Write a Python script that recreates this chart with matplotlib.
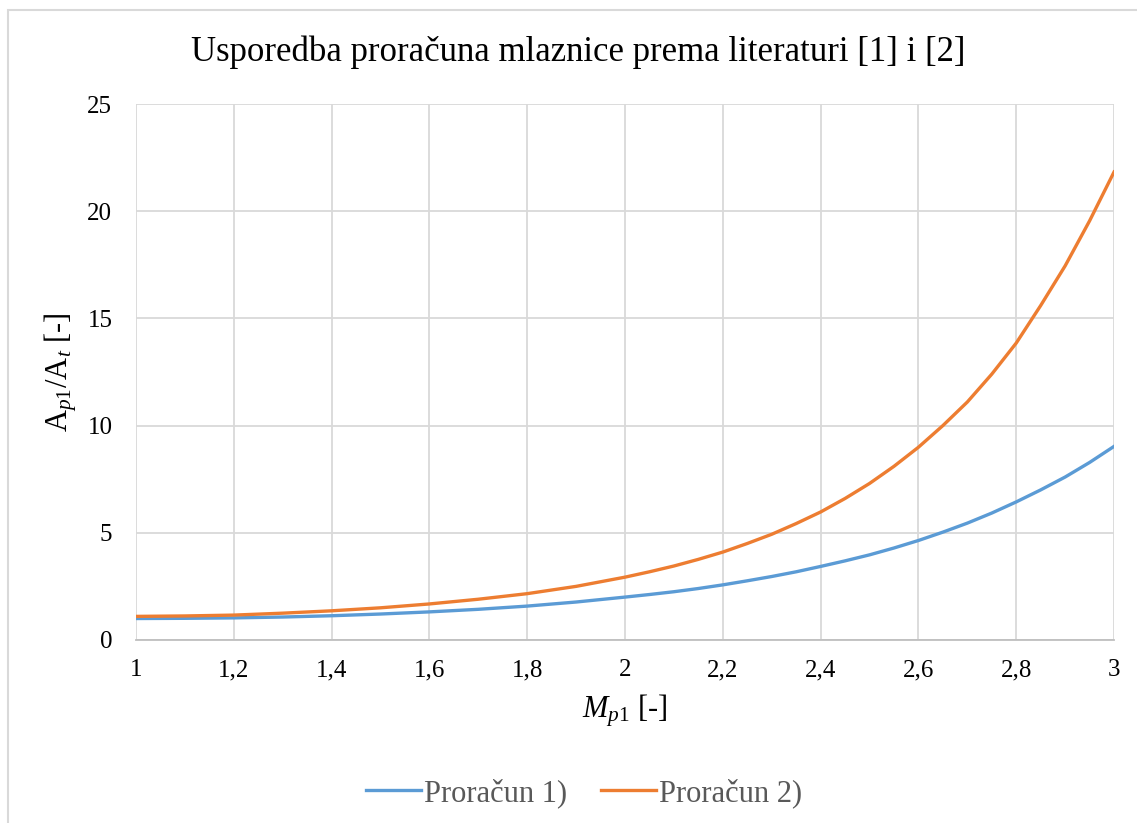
# Usporedba proracuna mlaznice - A_p1/A_t vs M_p1
import matplotlib.pyplot as plt
from matplotlib.patches import Rectangle

plt.rcParams['font.family'] = 'Liberation Serif'
plt.rcParams['mathtext.fontset'] = 'custom'
plt.rcParams['mathtext.rm'] = 'Liberation Serif'
plt.rcParams['mathtext.it'] = 'Liberation Serif:italic'

# Data
mach = [1.0, 1.1, 1.2, 1.3, 1.4, 1.5, 1.6, 1.7, 1.8, 1.9,
        2.0, 2.05, 2.1, 2.15, 2.2, 2.25, 2.3, 2.35, 2.4, 2.45,
        2.5, 2.55, 2.6, 2.65, 2.7, 2.75, 2.8, 2.85, 2.9, 2.95, 3.0]
racun1 = [1.0, 1.01, 1.03, 1.07, 1.13, 1.21, 1.31, 1.43, 1.58, 1.77,
          2.0, 2.12, 2.25, 2.4, 2.57, 2.76, 2.96, 3.18, 3.43, 3.69,
          3.97, 4.29, 4.64, 5.03, 5.45, 5.92, 6.44, 7.0, 7.6, 8.28, 9.03]
racun2 = [1.1, 1.12, 1.16, 1.25, 1.36, 1.5, 1.68, 1.9, 2.16, 2.5,
          2.93, 3.18, 3.45, 3.76, 4.1, 4.5, 4.93, 5.43, 5.97, 6.6,
          7.3, 8.1, 8.99, 10.0, 11.1, 12.4, 13.85, 15.6, 17.45, 19.55, 21.83]
x_ticks = [1.0, 1.2, 1.4, 1.6, 1.8, 2.0, 2.2, 2.4, 2.6, 2.8, 3.0]
x_labels = ['1', '1,2', '1,4', '1,6', '1,8', '2', '2,2', '2,4', '2,6', '2,8', '3']

fig = plt.figure(figsize=(11.37, 8.23), dpi=100)
ax = fig.add_axes([0.1196, 0.2224, 0.8602, 0.6512])

# Outer chart border like Excel
fig.patches.append(Rectangle((8 / 1137, -0.1), 1.2, 1.1 - 10 / 823,
                             transform=fig.transFigure, fill=False,
                             edgecolor='#d9d9d9', linewidth=1.5))

ax.plot(mach, racun1, color='#5b9bd5', linewidth=2.4, label='Proračun 1)')
ax.plot(mach, racun2, color='#ed7d31', linewidth=2.4, label='Proračun 2)')

ax.set_xlim(1, 3)
ax.set_ylim(0, 25)
ax.set_xticks(x_ticks)
ax.set_xticklabels(x_labels)
ax.set_yticks([0, 5, 10, 15, 20, 25])
ax.tick_params(length=0, labelsize=18)
ax.tick_params(axis='x', pad=14)
ax.tick_params(axis='y', pad=17)
ax.grid(color='#d9d9d9', linewidth=1.3)
ax.set_axisbelow(True)
for s in ['top', 'right', 'left']:
    ax.spines[s].set_visible(False)
ax.spines['bottom'].set_color('#bfbfbf')
ax.spines['bottom'].set_linewidth(1.3)

fig.text(0.509, 0.937, 'Usporedba proračuna mlaznice prema literaturi [1] i [2]',
         fontsize=25, ha='center', va='center')
ax.set_xlabel(r'$M_{p1}$ [-]', fontsize=22, labelpad=8)
ax.set_ylabel(r'$\mathrm{A}_{p\mathit{1}}/\mathrm{A}_t$ [-]', fontsize=22,
              labelpad=6)

leg = fig.legend(loc='center', bbox_to_anchor=(0.514, 0.0365), ncol=2,
                 frameon=False, fontsize=22, handlelength=1.8,
                 handletextpad=0.1, columnspacing=1.1)
for t in leg.get_texts():
    t.set_color('#595959')

fig.savefig('out.png', dpi=100)
